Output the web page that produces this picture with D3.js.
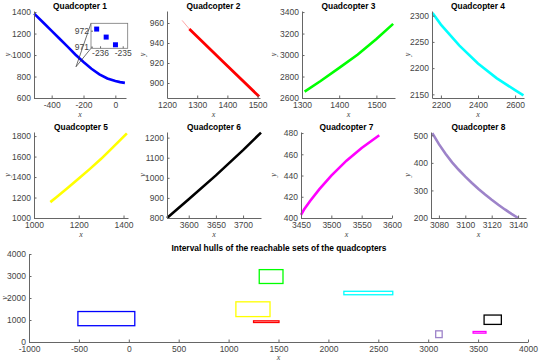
<!DOCTYPE html>
<html>
<head>
<meta charset="utf-8">
<script src="https://cdn.jsdelivr.net/npm/d3@7"></script>
<style>
  body { margin: 0; background: #fff; }
  svg { display: block; }
  .tick text { font-family: "Liberation Sans", Arial, sans-serif; font-size: 8.5px; fill: #444; }
  .domain, .tick line { stroke: #666; }
  .ttl { font-family: "Liberation Sans", Arial, sans-serif; font-size: 8.4px; font-weight: bold; fill: #000; }
  .lbl { font-family: "Liberation Serif", "DejaVu Serif", serif; font-style: italic; font-size: 8px; fill: #444; }
</style>
</head>
<body>
<div id="chart"></div>
<script>
// curve data
const q1X = [-510, -450, -400, -350, -300, -250, -200, -150, -100, -50, 0, 30, 60];
const q1Y = [1385, 1298, 1225, 1152, 1078, 1003, 935, 872, 820, 782, 758, 748, 741];
const q1ZoomX = [-236.15, -235.73, -235.32];
const q1ZoomY = [972.1, 971.6, 971.12];
const q2X = [1250, 1274, 1390, 1505];
const q2Y = [962.6, 954, 920, 886.5];
const q3X = [1307, 1350, 1400, 1450, 1500, 1545];
const q3Y = [2660, 2758, 2880, 3005, 3150, 3290];
const q4X = [2155, 2200, 2300, 2400, 2500, 2600, 2645];
const q4Y = [2305, 2283, 2243, 2209, 2181, 2158, 2148];
const q5X = [1073, 1100, 1150, 1200, 1250, 1300, 1350, 1415];
const q5Y = [1155, 1203, 1293, 1385, 1480, 1578, 1685, 1826];
const q6X = [3560, 3600, 3650, 3700, 3733];
const q6Y = [800, 893, 1012, 1138, 1225];
const q7X = [3450, 3455, 3465, 3480, 3500, 3525, 3550, 3579];
const q7Y = [403, 408, 416, 427, 440, 454, 466, 478];
const q8X = [3075, 3080, 3085, 3090, 3095, 3100, 3105, 3110, 3115, 3120, 3125, 3130, 3135, 3140];
const q8Y = [508, 468, 433, 402, 375, 350, 327, 305, 285, 266, 248, 231, 215, 200];

const titles = ['Quadcopter 1', 'Quadcopter 2', 'Quadcopter 3', 'Quadcopter 4',
                'Quadcopter 5', 'Quadcopter 6', 'Quadcopter 7', 'Quadcopter 8'];
const colors = ['#0000ff', '#ff0000', '#00ff00', '#00ffff', '#ffff00', '#000000', '#ff00ff', '#9d83c9'];

const xTicks = [[-400, -200, 0], [1200, 1300, 1400, 1500], [1300, 1400, 1500], [2200, 2400, 2600],
                [1000, 1200, 1400], [3600, 3650, 3700], [3450, 3500, 3550, 3600], [3080, 3100, 3120, 3140]];
const yTicks = [[600, 800, 1000, 1200, 1400], [900, 920, 940, 960], [2600, 2800, 3000, 3200, 3400],
                [2150, 2200, 2250, 2300], [1000, 1200, 1400, 1600, 1800], [800, 900, 1000, 1100, 1200],
                [400, 420, 440, 460, 480], [200, 300, 400, 500]];
const hullXTicks = [-1000, -500, 0, 500, 1000, 1500, 2000, 2500, 3000, 3500, 4000];
const hullYTicks = [0, 1000, 2000, 3000, 4000];
const hullTitle = 'Interval hulls of the reachable sets of the quadcopters';

const series = [[q1X, q1Y], [q2X, q2Y], [q3X, q3Y], [q4X, q4Y], [q5X, q5Y], [q6X, q6Y], [q7X, q7Y], [q8X, q8Y]];

// axis limits and boxes (px) of each panel
const xLims = [[-511, 67], [1200, 1508], [1300, 1550], [2152, 2648], [1000, 1420], [3560, 3733], [3450, 3600], [3074, 3146]];
const yLims = [[600, 1410], [885, 972], [2600, 3410], [2143, 2309], [1000, 1840], [800, 1228], [400, 481], [200, 512]];
const boxes = [
    { x0: 34, x1: 126, y0: 11, y1: 98 }, { x0: 167, x1: 260, y0: 11, y1: 98 },
    { x0: 302, x1: 395, y0: 11, y1: 98 }, { x0: 432, x1: 524, y0: 11, y1: 98 },
    { x0: 34, x1: 128, y0: 132, y1: 218 }, { x0: 167, x1: 261, y0: 132, y1: 218 },
    { x0: 301, x1: 392, y0: 132, y1: 218 }, { x0: 431, x1: 526, y0: 132, y1: 218 }
];
const yLabelX = [7, 142, 273, 407, 7, 142, 273, 407];

const svg = d3.select('#chart').append('svg')
    .attr('width', 539)
    .attr('height', 364);

const fmt = d => String(d);

function drawAxes(g, x, y, xt, yt, b) {
    g.append('g')
        .attr('transform', `translate(0,${b.y1})`)
        .call(d3.axisBottom(x).tickValues(xt).tickFormat(fmt).tickSizeInner(-2.5).tickSizeOuter(0).tickPadding(4));
    g.append('g')
        .attr('transform', `translate(${b.x0},0)`)
        .call(d3.axisLeft(y).tickValues(yt).tickFormat(fmt).tickSizeInner(-2.5).tickSizeOuter(0).tickPadding(3));
}

const line = (x, y) => d3.line().x(d => x(d[0])).y(d => y(d[1]));

series.forEach((s, i) => {
    const b = boxes[i];
    const x = d3.scaleLinear().domain(xLims[i]).range([b.x0, b.x1]);
    const y = d3.scaleLinear().domain(yLims[i]).range([b.y1, b.y0]);
    const g = svg.append('g');
    const pts = s[0].map((v, k) => [v, s[1][k]]);

    if (i === 1) {
        // first step is drawn faint
        g.append('path').datum(pts.slice(0, 2))
            .attr('d', line(x, y)).attr('fill', 'none')
            .attr('stroke', colors[i]).attr('stroke-opacity', 0.35).attr('stroke-width', 1);
        g.append('path').datum(pts.slice(1))
            .attr('d', line(x, y)).attr('fill', 'none')
            .attr('stroke', colors[i]).attr('stroke-width', 2.8);
    } else {
        g.append('path').datum(pts)
            .attr('d', line(x, y)).attr('fill', 'none')
            .attr('stroke', colors[i]).attr('stroke-width', 2.6);
    }

    drawAxes(g, x, y, xTicks[i], yTicks[i], b);

    g.append('text').attr('class', 'ttl')
        .attr('x', (b.x0 + b.x1) / 2).attr('y', b.y0 - 2)
        .attr('text-anchor', 'middle').text(titles[i]);
    g.append('text').attr('class', 'lbl')
        .attr('x', (b.x0 + b.x1) / 2).attr('y', b.y1 + 19)
        .attr('text-anchor', 'middle').text('x');
    g.append('text').attr('class', 'lbl')
        .attr('transform', `translate(${yLabelX[i] + 3},${(b.y0 + b.y1) / 2}) rotate(-90)`)
        .attr('text-anchor', 'middle').text('y');

    if (i === 0) {
        // magnified inset
        const ib = { x0: 91, x1: 127.7, y0: 23.3, y1: 48.3 };
        const ix = d3.scaleLinear().domain([-236.4, -234.78]).range([ib.x0, ib.x1]);
        const iy = d3.scaleLinear().domain([970.9, 972.46]).range([ib.y1, ib.y0]);
        const target = [x(-247), y(891)];
        g.append('line').attr('x1', ib.x0).attr('y1', ib.y0).attr('x2', target[0]).attr('y2', target[1])
            .attr('stroke', '#333').attr('stroke-width', 0.7);
        g.append('line').attr('x1', ib.x0).attr('y1', ib.y1).attr('x2', target[0]).attr('y2', target[1])
            .attr('stroke', '#333').attr('stroke-width', 0.7);
        g.append('rect').attr('x', ib.x0).attr('y', ib.y0)
            .attr('width', ib.x1 - ib.x0).attr('height', ib.y1 - ib.y0)
            .attr('fill', '#fff').attr('stroke', '#777').attr('stroke-width', 0.8);
        const ig = g.append('g');
        ig.append('g').attr('transform', `translate(0,${ib.y1})`)
            .call(d3.axisBottom(ix).tickValues([-236, -235]).tickFormat(fmt).tickSizeInner(-2).tickSizeOuter(0).tickPadding(2));
        ig.append('g').attr('transform', `translate(${ib.x0},0)`)
            .call(d3.axisLeft(iy).tickValues([971, 972]).tickFormat(fmt).tickSizeInner(-2).tickSizeOuter(0).tickPadding(2));
        ig.selectAll('.domain').remove();
        ig.selectAll('.mk')
            .data(q1ZoomX.map((v, k) => [v, q1ZoomY[k]]))
            .enter()
            .append('rect')
            .attr('class', 'mk')
            .attr('x', d => ix(d[0]) - 2.5)
            .attr('y', d => iy(d[1]) - 2.5)
            .attr('width', 5)
            .attr('height', 5)
            .attr('fill', '#0000ff');
    }
});

// interval hull panel
const hb = { x0: 29, x1: 528, y0: 254, y1: 342 };
const hx = d3.scaleLinear().domain([-1000, 4000]).range([hb.x0, hb.x1]);
const hy = d3.scaleLinear().domain([0, 4000]).range([hb.y1, hb.y0]);
const hg = svg.append('g');

hg.selectAll('.hull')
    .data(series.map((s, i) => ({ xe: d3.extent(s[0]), ye: d3.extent(s[1]), c: colors[i] })))
    .enter()
    .append('rect')
    .attr('class', 'hull')
    .attr('x', d => hx(d.xe[0]))
    .attr('y', d => hy(d.ye[1]))
    .attr('width', d => hx(d.xe[1]) - hx(d.xe[0]))
    .attr('height', d => hy(d.ye[0]) - hy(d.ye[1]))
    .attr('fill', 'none')
    .attr('stroke', d => d.c)
    .attr('stroke-width', 1.3);

drawAxes(hg, hx, hy, hullXTicks, hullYTicks, hb);

hg.append('text').attr('class', 'ttl')
    .attr('x', 279).attr('y', hb.y0 - 3)
    .attr('text-anchor', 'middle').text(hullTitle);
hg.append('text').attr('class', 'lbl')
    .attr('x', (hb.x0 + hb.x1) / 2).attr('y', hb.y1 + 18)
    .attr('text-anchor', 'middle').text('x');
hg.append('text').attr('class', 'lbl')
    .attr('transform', `translate(6.5,${(hb.y0 + hb.y1) / 2}) rotate(-90)`)
    .attr('text-anchor', 'middle').text('y');
</script>
</body>
</html>
